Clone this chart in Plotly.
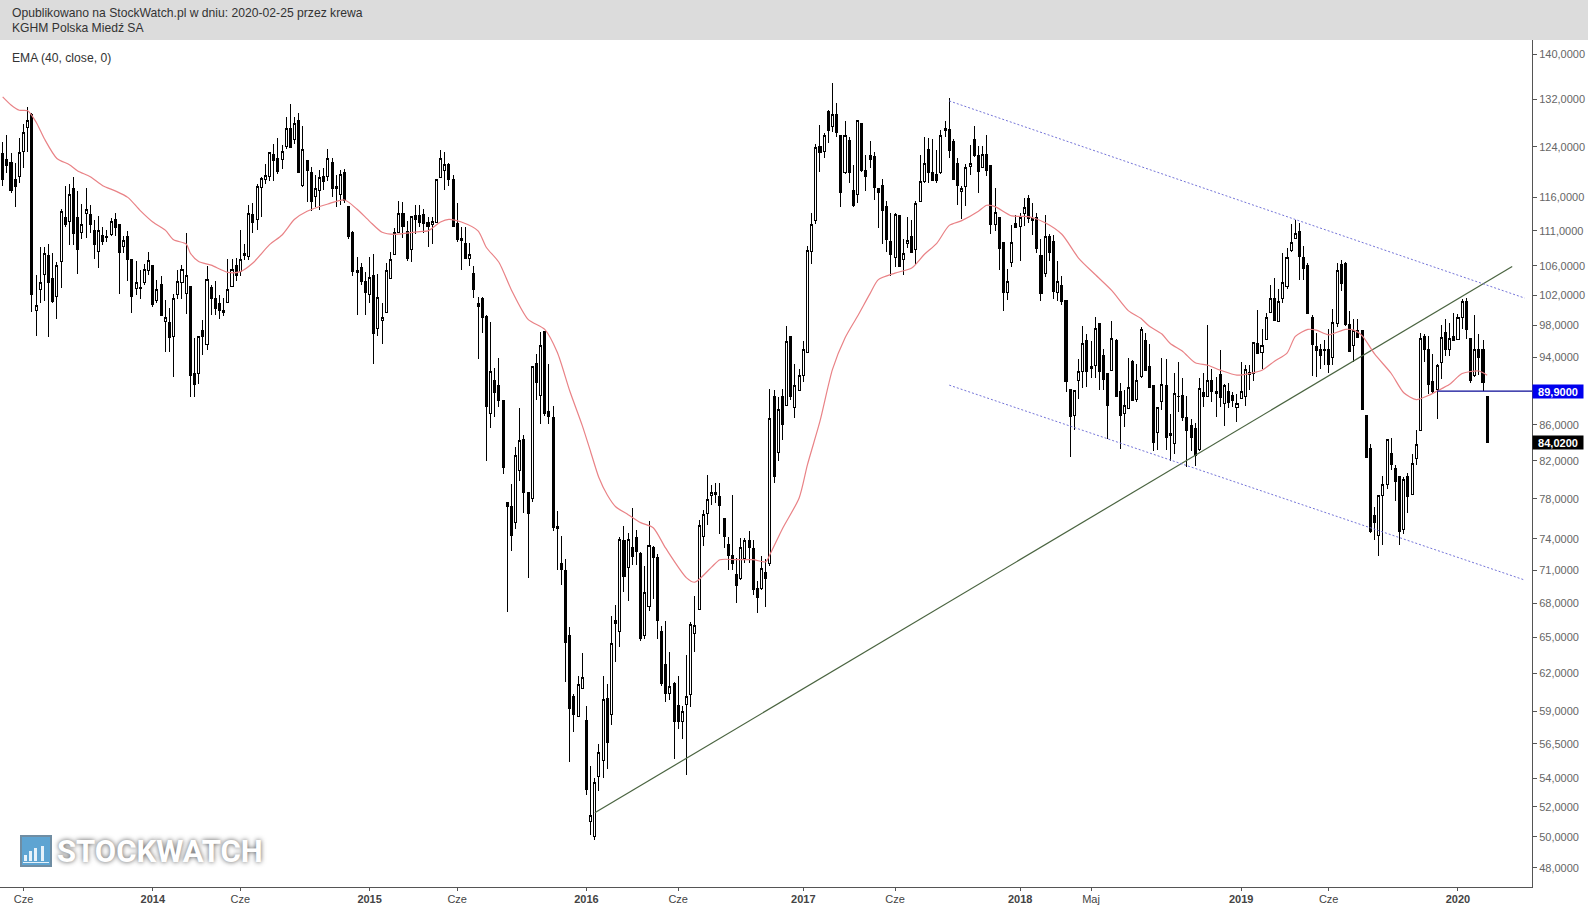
import math
import plotly.graph_objects as go

# Weekly candles (PLN, oldest first)
highs = [
 124.8,126.0,122.9,121.3,125.4,127.8,130.6,129.7,104.7,108.7,
 108.6,109.1,107.8,106.5,114.2,117.7,118.0,119.2,117.0,115.0,
 117.4,114.8,112.6,113.2,111.6,111.1,112.9,113.6,112.0,110.3,
 111.0,107.0,106.7,105.4,106.3,107.9,106.1,104.1,104.6,101.3,
 100.3,102.2,105.4,106.1,110.7,103.1,96.4,96.6,98.7,106.0,
 103.4,103.9,102.0,101.6,106.9,106.9,107.1,111.1,109.1,114.8,
 115.1,118.0,119.2,121.2,123.2,124.5,125.4,124.3,129.0,131.2,
 129.0,129.7,127.5,121.9,120.8,119.5,120.3,120.5,123.6,122.1,
 119.5,120.3,120.4,114.7,111.0,107.3,106.4,105.2,107.2,107.7,
 104.9,100.9,106.4,108.0,111.4,115.5,115.3,112.4,113.1,114.9,
 114.8,114.3,113.1,113.1,118.8,123.5,123.1,121.4,119.4,115.1,
 111.5,111.5,109.2,106.0,101.8,101.8,99.3,98.4,92.7,93.9,
 88.8,77.7,79.5,83.5,87.9,84.9,78.7,92.9,94.4,97.2,
 97.2,93.2,88.2,76.8,74.3,72.1,65.9,60.3,61.8,63.7,
 59.4,54.9,54.0,56.5,61.8,61.1,66.9,67.8,74.2,75.3,
 74.6,77.1,74.9,72.7,71.4,75.8,73.3,72.5,66.0,66.4,
 63.8,61.3,61.8,59.4,63.5,66.3,68.6,75.9,76.9,80.5,
 79.4,79.6,79.6,76.1,74.2,78.4,72.2,74.1,74.1,74.8,
 73.9,70.0,72.4,72.1,90.2,90.0,89.2,90.2,97.9,96.6,
 93.2,92.5,96.0,108.8,113.7,124.5,127.6,126.2,130.2,134.8,
 131.3,125.9,128.2,125.6,121.0,128.4,127.9,122.7,125.0,123.1,
 117.5,118.9,115.4,113.6,113.7,113.3,109.8,113.1,112.6,115.4,
 122.6,125.6,125.5,125.2,123.4,126.7,128.3,132.2,125.2,122.1,
 117.8,121.2,124.3,127.5,124.1,124.1,125.9,121.0,117.4,113.0,
 109.4,105.5,111.8,113.4,113.7,115.9,116.3,115.2,113.7,109.8,
 113.3,110.5,110.4,106.7,104.6,101.3,90.1,90.0,93.8,97.9,
 96.9,96.0,99.1,98.3,95.0,92.0,98.6,96.3,90.9,90.0,
 93.9,93.6,93.1,97.8,97.0,95.6,90.5,88.0,93.9,93.8,
 87.2,92.0,93.4,91.4,89.3,86.6,86.2,91.4,92.1,98.1,
 92.6,91.6,94.9,90.7,90.8,89.8,89.5,93.4,93.0,93.0,
 95.9,100.0,97.6,99.6,103.3,104.3,102.8,107.8,108.5,112.0,
 112.6,112.1,108.8,106.4,99.3,97.0,95.7,96.1,97.5,100.1,
 106.4,106.8,106.6,99.9,98.9,98.9,97.3,87.0,83.8,77.2,
 78.4,80.4,84.3,84.5,81.6,80.3,80.3,80.7,82.7,85.4,
 97.1,96.9,96.6,94.4,93.2,98.0,98.9,98.3,99.6,99.5,
 101.5,101.6,96.4,99.4,96.9,96.1,89.2,
]
body_tops = [
 122.9,121.9,121.4,118.7,123.1,126.3,128.4,129.4,100.6,103.7,
 107.8,107.4,104.2,106.0,113.8,112.9,116.5,117.3,113.0,112.0,
 114.2,113.4,111.1,111.1,110.3,110.2,112.4,112.6,111.9,109.6,
 110.2,106.9,103.7,103.0,105.5,106.8,106.0,102.8,103.4,99.0,
 98.4,101.6,103.8,105.5,104.7,103.1,92.0,96.6,97.3,104.1,
 103.0,101.5,100.9,100.0,102.8,105.5,106.1,106.9,107.8,113.5,
 113.4,117.7,118.9,119.4,123.0,122.8,122.1,123.2,127.0,127.0,
 127.8,128.3,123.6,121.8,119.8,117.4,119.0,119.2,122.1,121.5,
 117.6,119.6,119.8,114.6,110.8,105.3,105.8,103.8,104.4,104.7,
 101.7,99.1,105.3,106.9,110.7,113.6,113.6,110.9,113.1,113.3,
 113.3,113.4,112.2,112.4,118.8,122.1,121.2,121.2,118.8,112.1,
 109.9,109.2,107.6,104.9,100.9,101.5,99.2,92.2,91.1,90.5,
 88.8,77.6,77.2,82.6,84.2,84.3,78.7,92.8,93.2,95.4,
 97.2,87.5,86.8,75.2,71.6,71.0,65.2,60.1,61.1,61.7,
 58.3,51.4,53.7,55.9,59.9,60.0,64.5,66.5,73.9,73.8,
 73.9,73.2,74.1,72.6,69.0,73.4,73.2,72.2,65.5,62.7,
 60.9,61.2,59.4,59.0,60.1,66.1,66.0,75.3,76.4,77.9,
 78.7,78.7,78.2,76.0,73.5,72.4,70.6,73.2,73.8,73.8,
 73.1,69.3,71.2,70.8,86.7,89.2,87.7,89.3,95.9,96.6,
 90.5,91.8,95.0,108.1,112.0,123.9,124.0,125.8,129.8,129.3,
 129.3,125.9,125.9,125.0,117.0,128.4,127.8,120.1,122.6,122.4,
 117.4,117.9,114.6,109.5,113.4,113.3,107.8,109.6,110.2,115.1,
 118.4,121.3,123.5,119.9,119.6,125.8,127.0,126.8,124.8,121.3,
 117.4,120.7,121.3,125.2,122.6,122.7,122.7,121.0,113.7,113.0,
 109.3,103.8,109.3,112.1,113.0,114.4,115.9,112.8,112.9,107.5,
 110.2,110.2,109.5,103.9,103.3,101.3,90.1,90.0,92.3,95.7,
 96.1,92.8,97.6,98.2,94.2,92.0,96.3,96.1,89.8,88.2,
 90.3,93.5,91.1,97.5,96.1,92.8,90.5,88.0,90.7,90.5,
 85.0,89.6,89.3,89.4,86.8,85.9,85.6,90.2,89.7,91.2,
 91.2,89.8,91.9,90.5,89.8,89.4,88.4,89.9,92.5,92.1,
 95.8,95.7,95.5,99.0,101.5,101.5,101.1,103.7,107.2,109.3,
 110.6,110.9,107.2,106.0,99.1,95.3,95.0,95.0,95.0,98.4,
 105.4,106.2,106.3,98.1,97.3,97.4,97.3,87.0,83.4,76.3,
 78.3,79.5,84.3,82.8,81.2,80.3,80.0,80.3,81.7,83.8,
 96.4,96.6,95.0,91.0,93.0,96.5,97.1,96.4,96.6,99.1,
 101.1,101.2,96.4,94.9,95.0,95.0,89.2,
]
body_bottoms = [
 118.8,121.0,117.1,117.7,119.2,123.2,127.1,102.1,99.9,102.8,
 104.8,103.7,101.1,101.8,106.6,111.9,112.4,110.6,108.3,110.8,
 113.6,112.0,109.0,108.0,109.5,110.0,110.5,111.5,107.9,108.7,
 106.9,101.8,102.9,102.9,103.7,105.3,100.7,101.3,99.3,98.5,
 96.5,96.6,102.1,103.7,102.2,91.7,90.7,92.0,96.6,95.6,
 101.5,100.2,100.0,99.7,101.0,103.2,104.7,105.2,107.5,107.3,
 112.3,112.7,117.5,118.8,119.3,121.8,120.0,122.0,124.0,123.9,
 125.2,119.9,117.8,120.2,115.4,116.2,117.1,118.4,119.2,117.4,
 117.4,116.4,115.5,110.2,105.2,105.1,103.9,102.3,102.1,97.0,
 97.6,98.6,99.7,104.3,107.6,110.7,111.7,107.0,108.3,112.7,
 112.3,112.1,111.6,111.9,112.3,119.0,120.2,118.8,111.7,109.7,
 109.6,107.0,107.1,102.7,100.5,99.0,88.1,87.3,89.7,88.8,
 81.3,77.2,74.3,75.6,81.0,78.7,76.5,78.0,90.9,89.4,
 87.3,86.9,75.1,75.0,71.1,64.6,59.2,58.7,58.6,60.8,
 53.2,51.0,50.0,54.1,55.3,56.6,58.7,66.2,65.5,70.4,
 71.3,72.3,72.8,64.9,65.2,67.7,72.2,66.5,61.2,60.4,
 60.4,58.2,58.2,58.2,59.5,60.3,65.3,67.4,74.2,76.5,
 78.4,78.5,77.3,74.2,72.4,71.6,69.6,70.2,72.1,73.2,
 69.2,68.5,69.3,70.2,71.6,80.3,82.9,86.0,88.2,89.2,
 88.0,90.0,91.7,94.6,108.0,112.5,123.0,123.2,126.6,127.4,
 126.4,116.8,119.8,119.8,114.7,116.4,120.1,119.3,122.0,117.5,
 116.7,114.0,109.8,107.6,107.2,105.9,106.9,109.1,107.9,108.3,
 115.3,118.4,119.9,118.6,118.6,119.9,126.7,123.4,118.8,117.9,
 116.9,117.7,120.8,122.5,120.0,120.7,120.2,112.0,112.0,108.5,
 102.4,102.4,106.5,111.5,111.6,113.5,112.8,112.5,108.5,102.2,
 104.9,107.9,102.5,102.4,101.2,91.0,86.9,87.1,91.1,92.2,
 92.2,92.6,93.0,92.2,91.3,88.2,92.4,89.3,87.1,87.3,
 87.9,88.8,88.9,91.6,92.4,90.3,84.0,85.1,88.7,84.6,
 84.8,83.9,89.2,86.8,85.3,84.6,82.6,83.2,89.3,89.3,
 89.9,89.6,89.1,88.4,88.6,88.8,88.0,89.0,89.2,91.9,
 92.0,94.5,94.6,96.2,99.7,98.7,98.5,101.6,103.1,108.1,
 109.9,107.3,105.7,99.6,95.6,94.8,94.2,94.8,93.1,94.0,
 98.3,103.6,98.1,94.7,95.5,96.5,87.7,82.4,74.7,75.6,
 74.3,78.4,79.5,81.6,79.8,74.7,74.9,78.2,78.5,82.3,
 85.3,94.9,90.7,89.9,90.1,93.4,95.0,95.0,96.1,96.2,
 99.1,97.5,91.1,91.8,94.0,90.9,84.02,
]
lows = [
 117.7,119.8,116.6,114.5,118.2,120.5,123.2,99.8,96.7,101.0,
 101.2,96.5,101.0,98.8,102.9,111.6,108.9,109.0,104.9,109.8,
 109.9,110.7,106.9,105.7,108.9,109.4,110.3,110.3,102.1,107.8,
 103.9,99.6,102.0,101.5,103.4,104.8,100.4,101.0,99.3,94.6,
 94.6,91.6,101.5,101.5,99.5,89.2,89.2,90.7,94.3,94.9,
 99.4,99.4,98.8,99.2,101.0,103.1,103.9,104.6,106.8,106.8,
 110.7,111.1,113.0,118.0,118.6,118.6,119.6,120.4,123.7,123.8,
 124.4,119.9,117.6,115.3,113.9,114.6,114.1,117.2,118.6,116.0,
 114.5,114.8,115.1,109.8,104.6,99.4,103.4,99.4,101.0,93.2,
 96.7,95.6,99.7,104.2,107.5,110.7,110.0,106.7,106.5,110.5,
 111.5,110.7,108.7,109.1,112.2,119.0,117.1,117.7,111.7,109.4,
 105.4,107.0,106.0,101.6,93.8,97.0,82.0,85.6,86.9,88.0,
 80.6,67.2,72.8,75.0,79.9,76.6,70.3,77.7,88.8,86.1,
 87.0,86.1,74.8,71.0,69.6,61.3,55.2,57.4,58.5,60.7,
 52.8,50.1,49.8,53.1,54.0,54.7,57.9,62.9,64.2,69.0,
 68.2,71.5,71.5,64.7,64.9,67.3,68.4,64.9,61.0,59.7,
 59.9,55.4,57.6,56.9,54.2,59.3,63.8,67.4,73.3,75.4,
 77.4,77.6,74.5,73.1,71.0,71.0,68.0,70.1,71.7,71.7,
 68.7,67.1,69.2,67.7,71.4,79.7,82.0,84.3,88.2,88.8,
 86.8,90.0,91.0,94.6,106.3,112.0,119.9,122.2,124.6,126.5,
 125.6,114.6,119.6,118.2,114.6,115.2,120.0,117.0,120.5,115.6,
 111.4,109.1,108.0,104.6,105.9,105.8,104.7,108.5,107.8,106.2,
 115.3,118.2,118.2,118.6,118.2,119.6,125.6,122.2,118.7,114.8,
 112.7,114.7,119.4,122.4,116.7,120.6,119.3,110.5,111.0,105.4,
 99.9,101.3,105.8,111.4,106.7,111.7,112.1,110.4,107.8,101.2,
 104.5,106.7,101.5,101.2,100.7,89.8,82.4,85.4,89.0,90.3,
 90.4,91.4,91.4,90.0,90.0,84.4,92.4,89.3,83.3,85.8,
 87.9,88.7,88.6,91.5,92.4,90.3,83.1,83.2,87.7,83.2,
 82.0,82.7,87.4,86.4,81.3,83.1,81.4,83.1,88.0,89.2,
 88.6,86.9,88.0,85.9,87.9,88.0,86.3,89.0,88.2,90.0,
 91.1,94.4,92.6,96.1,99.6,98.7,98.4,101.0,102.8,108.0,
 109.8,104.0,104.0,99.6,91.7,91.6,92.5,93.0,92.1,93.0,
 97.8,102.5,97.9,94.7,93.4,96.4,87.7,82.3,74.6,73.9,
 72.4,73.4,79.0,81.0,77.8,73.4,74.5,76.6,78.5,81.6,
 85.3,93.4,89.6,89.7,86.7,91.3,94.1,94.2,96.0,96.1,
 97.6,96.3,90.8,91.6,91.8,89.9,84.02,
]
# W = close above open (hollow), B = close below open (solid)
dir_rows = [
 "BBBBWWWBWW","WBBWWBWBBW","WBBWBBWBBW","BBWBWWBWBW","BWWWWBBW",
 "BWBBBBWWBW","BWBWWWWBBW","WBWBWBBWWB","WBBWBBBBBB","WBWWWWWW",
 "BBWBBBBWWW","WBBBBBWBBB","BWBBBBBWWB","BWBWBBBBBB",
 "BBWWBWWWWB","WBWBWBBBWW","BBBBWBBWWW","WWWWWBBBBB","BWWBBBWB",
 "WBWBWBWWWW","WWBWBWBBWB","BWBBBBBBBB","WBWWBWWWBB","BWBB",
 "BBWWWBBWBB","WBBWWBWWBB","BBWBBWBBBW","WWBBWBBBWB","BWWBW",
 "WBBBWWBBWB","BBBBWBWBBB","WBBWWWBWBW","WWBWWWWWBB","BBBBBB",
 "WWBBBWBBBB","BWWWBBBWBW","WWBBBWWBWB","WWBBWBBB",
]
directions = "".join(dir_rows)

# EMA (40) line, read at selected weeks
ema_weeks = [0,2,4,6,8,10,13,16,18,21,24,27,30,33,36,39,41,44,45,47,50,54,57,60,64,67,70,73,78,82,85,88,91,94,
             100,102,105,107,110,114,116,119,122,126,130,133,136,139,141,143,145,147,150,153,156,159,164,166,170,172,176,180,183,
             184,187,191,193,196,199,202,205,208,210,214,218,221,224,227,230,234,236,238,242,246,250,254,258,262,266,270,273,275,
             278,280,283,286,289,292,296,299,302,305,308,310,313,315,318,322,324,326,329,333,336,339,342,344,347,350,354,356]
ema_values = [132.4,131.0,130.1,130.0,128.1,125.3,122.1,121.1,120.1,119.2,117.8,117.0,116.0,114.0,112.3,111.1,109.7,109.1,107.8,106.6,106.1,105.1,105.2,106.4,109.0,110.4,112.7,113.9,115.0,115.6,114.2,112.4,110.8,110.5,
              110.9,111.0,112.3,112.7,112.3,111.0,108.6,106.5,102.7,98.8,97.5,94.6,89.9,85.9,83.0,80.2,78.4,77.2,76.4,75.6,75.1,73.1,70.3,69.9,71.3,72.0,72.0,72.0,71.8,
              72.5,75.0,78.1,81.6,86.4,92.5,96.4,99.2,102.2,104.1,105.0,105.7,107.6,109.2,111.8,112.5,113.9,114.8,114.6,113.2,113.1,112.2,110.5,107.1,104.8,102.6,99.9,98.9,97.9,
              96.9,95.7,94.7,93.3,93.0,92.4,91.8,92.0,92.4,93.5,94.5,96.6,97.5,97.4,96.8,97.5,97.4,96.7,94.4,92.0,89.7,88.9,89.4,89.9,90.7,92.0,92.3,91.8]

# Drawn studies: week / price pairs
support_weeks = [142, 362]
support_prices = [51.6, 105.9]
channel_upper_weeks = [227, 365]
channel_upper_prices = [131.7, 101.6]
channel_lower_weeks = [227, 365]
channel_lower_prices = [90.6, 70.1]
level_weeks = [344, 366.75]
level_prices = [89.9, 89.9]

y_ticks = [140,132,124,116,111,106,102,98,94,86,82,78,74,71,68,65,62,59,56.5,54,52,50,48]
x_tick_weeks = [5,36,57,88,109,140,162,192,214,244,261,297,318,349]
x_tick_labels = ["Cze","<b>2014</b>","Cze","<b>2015</b>","Cze","<b>2016</b>","Cze","<b>2017</b>","Cze","<b>2018</b>","Maj","<b>2019</b>","Cze","<b>2020</b>"]

weeks = list(range(len(highs)))
opens = [b if d == "W" else t for t, b, d in zip(body_tops, body_bottoms, directions)]
closes = [t if d == "W" else b for t, b, d in zip(body_tops, body_bottoms, directions)]

W, H = 1588, 906
L_M, R_M, T_M, B_M = 0, 56, 40, 19
PW, PH = W - L_M - R_M, H - T_M - B_M
FONT = "Liberation Sans"


def px(x):
    return (x - L_M) / PW


def py(y):
    return (H - B_M - y) / PH


fig = go.Figure()
fig.add_trace(go.Scatter(x=support_weeks, y=support_prices, mode="lines", line=dict(color="#4a6440", width=1.2), hoverinfo="skip"))
for xs, ys in [(channel_upper_weeks, channel_upper_prices), (channel_lower_weeks, channel_lower_prices)]:
    fig.add_trace(go.Scatter(x=xs, y=ys, mode="lines", line=dict(color="#7474d8", width=1, dash="2px,2px"), hoverinfo="skip"))
fig.add_trace(go.Candlestick(
    x=weeks, open=opens, high=highs, low=lows, close=closes, whiskerwidth=0,
    increasing=dict(line=dict(color="#000000", width=1), fillcolor="#ffffff"),
    decreasing=dict(line=dict(color="#000000", width=1), fillcolor="#000000"),
))
fig.add_trace(go.Scatter(x=ema_weeks, y=ema_values, mode="lines",
                         line=dict(color="#e98286", width=1.2, shape="spline", smoothing=0.7), hoverinfo="skip"))
fig.add_trace(go.Scatter(x=level_weeks, y=level_prices, mode="lines", line=dict(color="#0a0a96", width=1.2), hoverinfo="skip"))

shapes = [
    dict(type="rect", xref="paper", yref="paper", x0=0, x1=px(W), y0=py(40), y1=py(0), fillcolor="#dcdcdc", line_width=0, layer="above"),
    dict(type="rect", xref="paper", yref="paper", x0=px(21), x1=px(51), y0=py(866), y1=py(836), fillcolor="#5ea4d2", line=dict(color="#6f8da3", width=2), layer="above"),
]
for bx, top in [(24, 855), (29, 851), (34, 848), (41, 846)]:
    shapes.append(dict(type="rect", xref="paper", yref="paper", x0=px(bx), x1=px(bx + 3), y0=py(861), y1=py(top), fillcolor="#e6f2fa", line_width=0, layer="above"))
shapes.append(dict(type="rect", xref="paper", yref="paper", x0=px(23), x1=px(49), y0=py(863), y1=py(862), fillcolor="#e6f2fa", line_width=0, layer="above"))

ann = []
for text, x, y in [("Opublikowano na StockWatch.pl w dniu: 2020-02-25 przez krewa", 9.8, 13),
                   ("KGHM Polska Miedź SA", 9.8, 28), ("EMA (40, close, 0)", 9.8, 58)]:
    ann.append(dict(text=text, xref="paper", yref="paper", x=px(x), y=py(y), xanchor="left", yanchor="middle",
                    showarrow=False, font=dict(family=FONT, size=12.15, color="#333333")))
for value, label, bg in [(89.9, "89,9000", "#0000ee"), (84.02, "84,0200", "#000000")]:
    ann.append(dict(text=f"<b>{label}</b>", xref="paper", yref="y", x=1.0, y=math.log10(value), xanchor="left", yanchor="middle",
                    showarrow=False, bgcolor=bg, width=50, height=13, borderpad=0, align="center",
                    font=dict(family=FONT, size=11, color="#ffffff")))
ann.append(dict(text="<b>STOCKWATCH</b>", xref="paper", yref="paper", x=px(55), y=py(851), xanchor="left", yanchor="middle",
                showarrow=False, font=dict(family="Roboto", size=31, color="#ffffff", shadow="0 0 5px #555555")))

fig.update_layout(
    autosize=True,
    margin=dict(l=L_M, r=R_M, t=T_M, b=B_M, pad=0),
    paper_bgcolor="#ffffff", plot_bgcolor="#ffffff", showlegend=False,
    shapes=shapes, annotations=ann,
    xaxis=dict(range=[-0.64, 366.75], rangeslider=dict(visible=False), showgrid=False, zeroline=False,
               tickmode="array", tickvals=x_tick_weeks, ticktext=x_tick_labels, ticks="outside", ticklen=3, tickwidth=1,
               ticklabelstandoff=-1,
               tickcolor="#555555", showline=True, linecolor="#555555", linewidth=1, tickangle=0,
               tickfont=dict(family=FONT, size=11, color="#444444")),
    yaxis=dict(type="log", side="right", range=[math.log10(46.8), math.log10(142.7)], showgrid=False, zeroline=False,
               tickmode="array", tickvals=y_ticks, ticktext=[f"{v:.4f}".replace(".", ",") for v in y_ticks],
               ticks="outside", ticklen=4, tickwidth=1, tickcolor="#555555", showline=True, linecolor="#555555", linewidth=1,
               tickfont=dict(family=FONT, size=11, color="#666666")),
)
fig.write_html("out.html", config=dict(displayModeBar=False, responsive=True), default_width="1588px", default_height="906px",
               full_html=True, include_plotlyjs=True,
               post_script="document.body.style.margin='0';var s=document.createElement('style');s.textContent='.boxlayer path{shape-rendering:crispEdges}';document.head.appendChild(s);")
